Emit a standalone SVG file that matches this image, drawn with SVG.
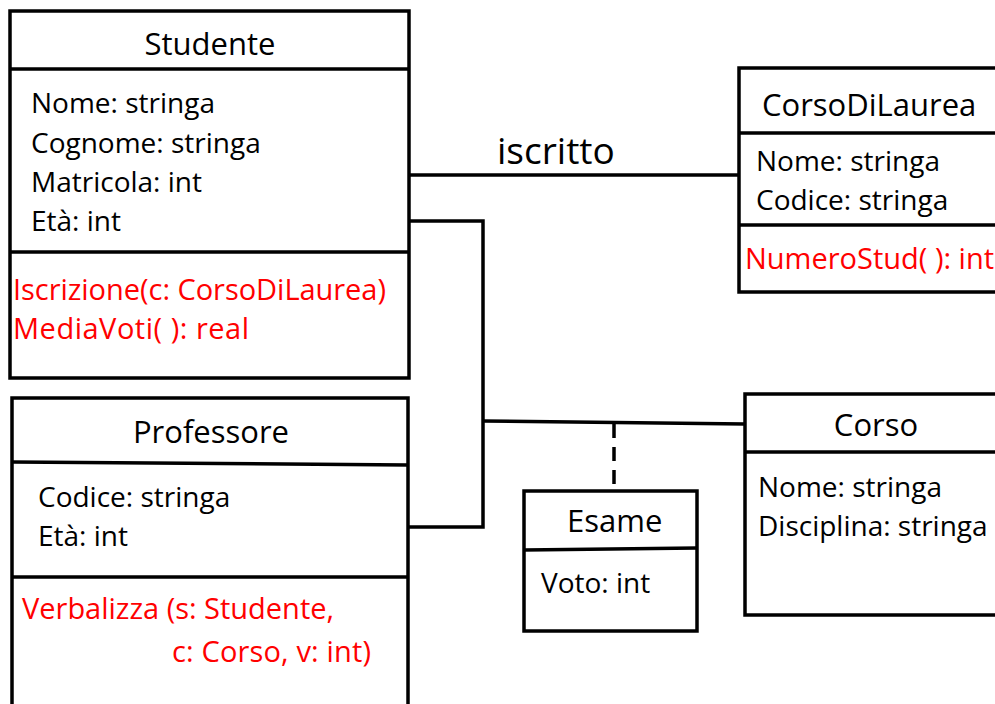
<svg xmlns="http://www.w3.org/2000/svg" width="995" height="704" viewBox="0 0 995 704">
<style>
.box{fill:#fff;stroke:#000;stroke-width:3.5}
.ln{stroke:#000;stroke-width:3.5;fill:none}
.t{font-family:"Open Sans","Noto Sans",sans-serif;font-size:28px;fill:#000}
.h{font-family:"Open Sans","Noto Sans",sans-serif;font-size:31px;fill:#000}
.r{font-family:"Open Sans","Noto Sans",sans-serif;font-size:29px;fill:#f00}
</style>
<rect width="995" height="704" fill="#fff"/>
<g id="connectors">
<line class="ln" x1="409" y1="175" x2="738" y2="175"/>
<polyline class="ln" points="409,221 483,221 483,527 409,527"/>
<line class="ln" x1="483" y1="421" x2="745" y2="424"/>
<line class="ln" x1="614" y1="424" x2="614" y2="490" stroke-dasharray="14,9"/>
<text x="497" y="164" style="font-family:'Open Sans','Noto Sans',sans-serif;font-size:37px">iscritto</text>
</g>
<g id="studente">
<rect class="box" x="10" y="11" width="399" height="367"/>
<line class="ln" x1="10" y1="69" x2="409" y2="69"/>
<line class="ln" x1="10" y1="252" x2="409" y2="252"/>
<text class="h" x="210" y="55" text-anchor="middle">Studente</text>
<text class="t" x="31" y="113">Nome: stringa</text>
<text class="t" x="31" y="153">Cognome: stringa</text>
<text class="t" x="31" y="192">Matricola: int</text>
<text class="t" x="31" y="231">Età: int</text>
<text class="r" x="13" y="300" textLength="373">Iscrizione(c: CorsoDiLaurea)</text>
<text class="r" x="13" y="339" textLength="236">MediaVoti( ): real</text>
</g>
<g id="corsodilaurea">
<rect class="box" x="739" y="68" width="270" height="224"/>
<line class="ln" x1="739" y1="133" x2="995" y2="133"/>
<line class="ln" x1="739" y1="225" x2="995" y2="225"/>
<text class="h" x="762" y="116">CorsoDiLaurea</text>
<text class="t" x="756" y="171">Nome: stringa</text>
<text class="t" x="756" y="210">Codice: stringa</text>
<text class="r" x="745" y="269">NumeroStud( ): int</text>
</g>
<g id="professore">
<rect class="box" x="12" y="398" width="396" height="320"/>
<line class="ln" x1="12" y1="462" x2="408" y2="465"/>
<line class="ln" x1="12" y1="577" x2="408" y2="577"/>
<text class="h" x="211" y="443" text-anchor="middle">Professore</text>
<text class="t" x="38" y="507">Codice: stringa</text>
<text class="t" x="38" y="546">Età: int</text>
<text class="r" x="22" y="619" textLength="312">Verbalizza (s: Studente,</text>
<text class="r" x="172" y="662" textLength="199">c: Corso, v: int)</text>
</g>
<g id="esame">
<rect class="box" x="524" y="491" width="173" height="140"/>
<line class="ln" x1="524" y1="550" x2="697" y2="548"/>
<text class="h" x="567" y="532">Esame</text>
<text class="t" x="541" y="593">Voto: int</text>
</g>
<g id="corso">
<rect class="box" x="745" y="394" width="270" height="221"/>
<line class="ln" x1="745" y1="452" x2="995" y2="452"/>
<text class="h" x="876" y="436" text-anchor="middle">Corso</text>
<text class="t" x="758" y="497">Nome: stringa</text>
<text class="t" x="758" y="536">Disciplina: stringa</text>
</g>
</svg>
